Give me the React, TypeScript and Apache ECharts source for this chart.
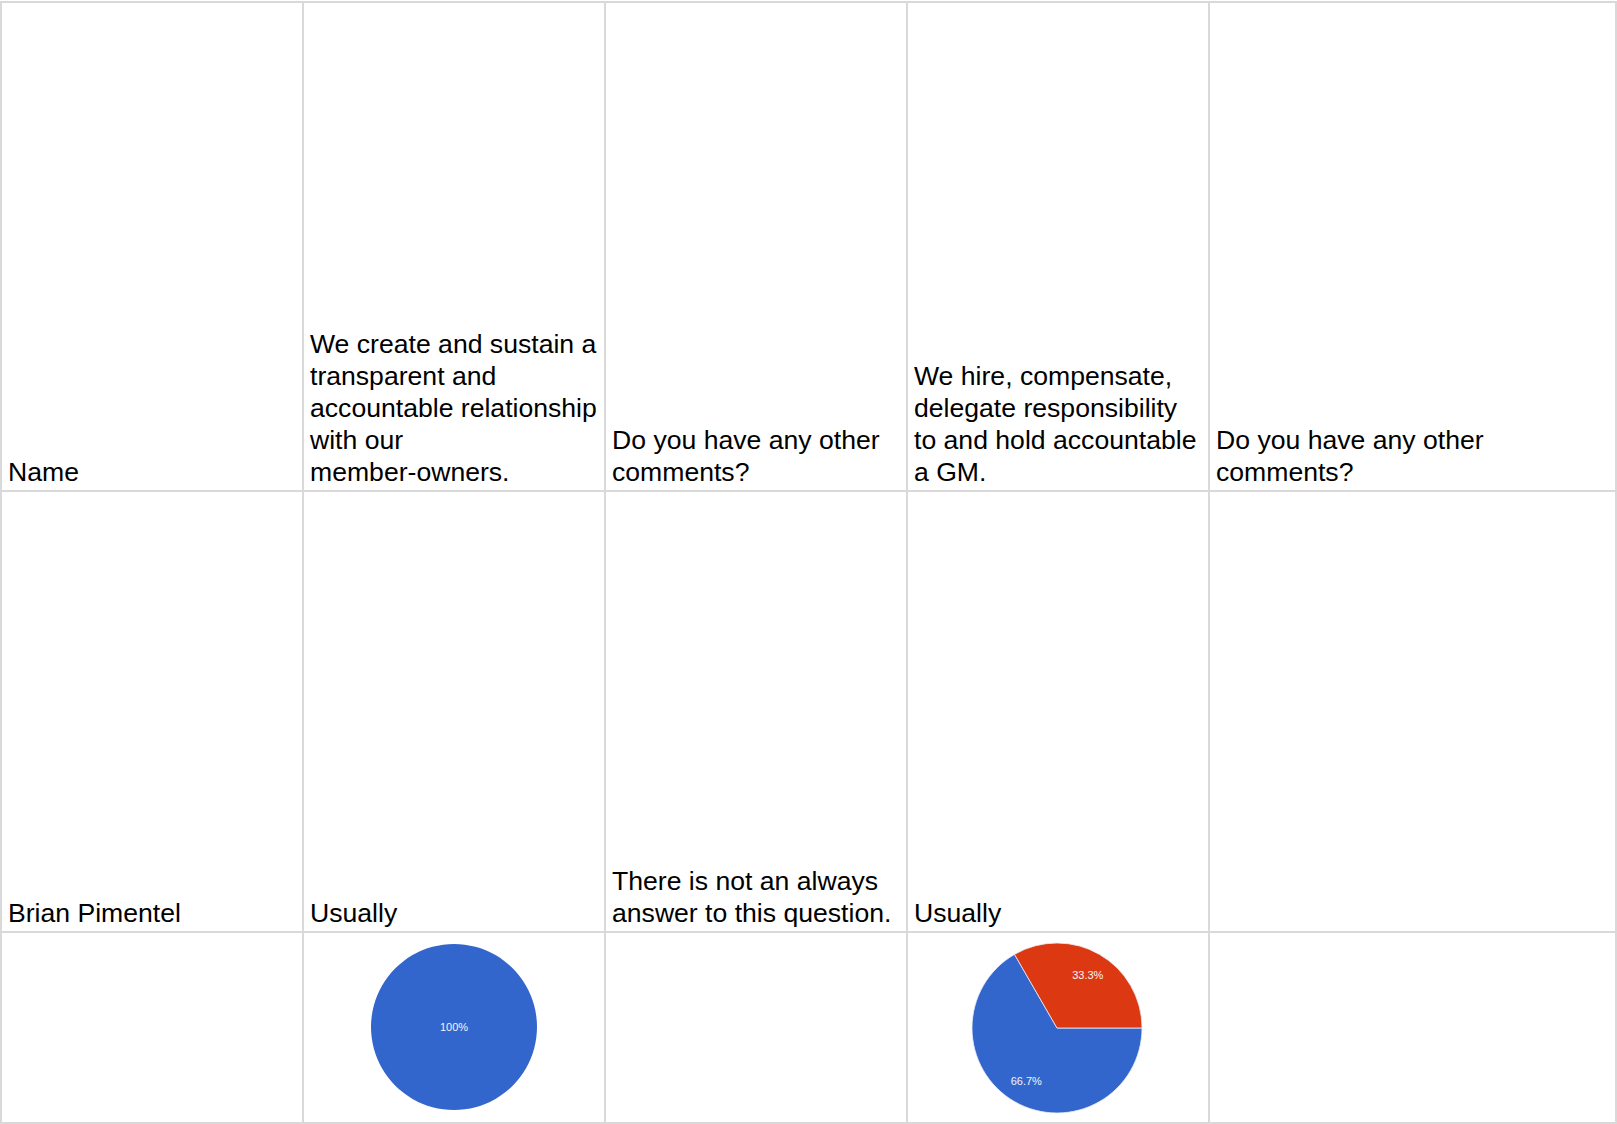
import React, { useEffect, useRef } from "react";
import * as echarts from "echarts";

// ---- data ----
const columnHeaders = [
  "Name",
  "We create and sustain a\ntransparent and\naccountable relationship\nwith our\nmember-owners.",
  "Do you have any other\ncomments?",
  "We hire, compensate,\ndelegate responsibility\nto and hold accountable\na GM.",
  "Do you have any other\ncomments?",
];
const responseRow = [
  "Brian Pimentel",
  "Usually",
  "There is not an always\nanswer to this question.",
  "Usually",
  "",
];
const pieQ1Names = ["Usually"];
const pieQ1Values = [1];
const pieQ2Names = ["Usually", "Always"];
const pieQ2Values = [2, 1];
const pieColors = ["#3366CC", "#DC3912"];

// ---- layout ----
const W = 1617;
const H = 1124;
const colX = [1, 303, 605, 907, 1209, 1616];
const rowY = [2, 491, 932, 1123];
const GRID = "#d9d9d9";
const FONT = 'Arial, "Liberation Sans", sans-serif';

export default function App() {
  const ref = useRef<HTMLDivElement>(null);
  useEffect(() => {
    if (!ref.current) return;
    const chart = echarts.init(ref.current, null, { renderer: "svg" });
    const graphics: any[] = [];
    colX.forEach((x) =>
      graphics.push({
        type: "line",
        shape: { x1: x, y1: rowY[0] - 1, x2: x, y2: rowY[rowY.length - 1] + 1 },
        style: { stroke: GRID, lineWidth: 2 },
      })
    );
    rowY.forEach((y) =>
      graphics.push({
        type: "line",
        shape: { x1: colX[0] - 1, y1: y, x2: colX[colX.length - 1] + 1, y2: y },
        style: { stroke: GRID, lineWidth: 2 },
      })
    );
    const addRowTexts = (texts: string[], bottom: number) => {
      texts.forEach((t, i) => {
        if (!t) return;
        graphics.push({
          type: "text",
          x: colX[i] + 7,
          y: bottom,
          style: {
            text: t,
            fill: "#000",
            font: `26.6px ${FONT}`,
            lineHeight: 32,
            verticalAlign: "bottom",
            align: "left",
          },
        });
      });
    };
    addRowTexts(columnHeaders, rowY[1] - 3);
    addRowTexts(responseRow, rowY[2] - 3);

    const mk = (names: string[], values: number[]) =>
      names.map((n, i) => ({ name: n, value: values[i], itemStyle: { color: pieColors[i] } }));

    const labelStyle = {
      color: "#f4f4f8",
      fontSize: 11,
      fontFamily: FONT,
      formatter: "{d}%",
    };

    chart.setOption({
      animation: false,
      graphic: graphics,
      series: [
        {
          type: "pie",
          center: [454, 1027],
          radius: [0, 83],
          startAngle: 0,
          percentPrecision: 1,
          data: mk(pieQ1Names, pieQ1Values),
          itemStyle: { borderColor: "#fff", borderWidth: 0 },
          label: { ...labelStyle, position: "center" },
          labelLine: { show: false },
          emphasis: { disabled: true },
        },
        {
          type: "pie",
          center: [1057, 1028],
          radius: [0, 85],
          startAngle: 0,
          percentPrecision: 1,
          data: mk(pieQ2Names, pieQ2Values),
          itemStyle: { borderColor: "#e8ecf8", borderWidth: 0.8 },
          label: { show: false },
          labelLine: { show: false },
          emphasis: { disabled: true },
        },
        {
          type: "pie",
          center: [1057, 1028],
          radius: [32, 85],
          startAngle: 0,
          percentPrecision: 1,
          silent: true,
          data: pieQ2Names.map((n, i) => ({
            name: n,
            value: pieQ2Values[i],
            itemStyle: { color: "rgba(0,0,0,0)" },
          })),
          label: { ...labelStyle, position: "inside" },
          labelLine: { show: false },
          emphasis: { disabled: true },
        },
      ],
    });
    return () => chart.dispose();
  }, []);
  return (
    <div
      ref={ref}
      style={{ position: "absolute", left: 0, top: 0, width: W, height: H, background: "#fff" }}
    />
  );
}
